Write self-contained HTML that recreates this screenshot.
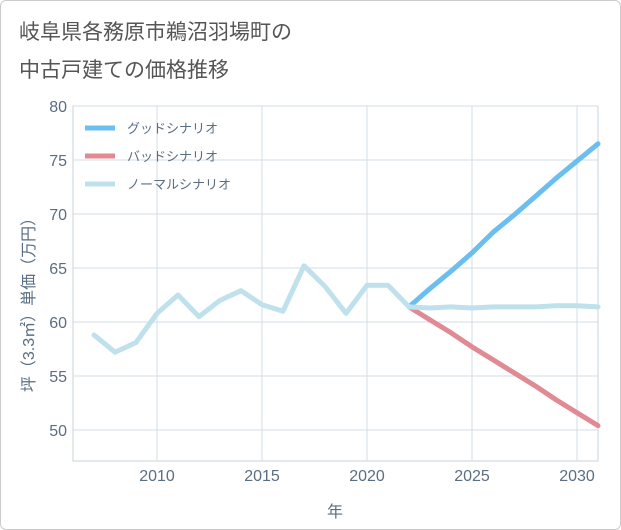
<!DOCTYPE html>
<html><head><meta charset="utf-8"><style>
body{margin:0;background:#fff;font-family:"Liberation Sans","Noto Sans CJK JP",sans-serif;}
#wrap{position:relative;width:619px;height:528px;border:1px solid #ccc;border-radius:6px;overflow:hidden;}
</style></head><body>
<div id="wrap">
<svg id="c" width="621" height="530"></svg>
</div>
<script>
const years=[2007,2008,2009,2010,2011,2012,2013,2014,2015,2016,2017,2018,2019,2020,2021,2022];
const hist=[58.8,57.2,58.1,60.8,62.5,60.5,62.0,62.9,61.6,61.0,65.2,63.3,60.8,63.4,63.4,61.4];
const futYears=[2022,2023,2024,2025,2026,2027,2028,2029,2030,2031];
const good=[61.4,63.1,64.7,66.4,68.3,69.9,71.6,73.3,74.9,76.5];
const bad=[61.4,60.2,59.0,57.7,56.5,55.3,54.1,52.8,51.6,50.4];
const normal=[61.4,61.3,61.4,61.3,61.4,61.4,61.4,61.5,61.5,61.4];
const yTicks=[50,55,60,65,70,75,80];
const xTicks=[2010,2015,2020,2025,2030];
const NS="http://www.w3.org/2000/svg",svg=document.getElementById('c');
const L=72,R=597,T=105,B=460;
const x=v=>156+(v-2010)*21, y=v=>105+(80-v)*10.8;
function mk(t,a,p){const e=document.createElementNS(NS,t);for(const k in a)e.setAttribute(k,a[k]);(p||svg).appendChild(e);return e;}
function txt(s,a){const e=mk('text',a);e.textContent=s;return e;}
let e=txt('岐阜県各務原市鵜沼羽場町の',{x:18,y:38,'font-size':21,fill:'#555'});

e=txt('中古戸建ての価格推移',{x:18,y:76,'font-size':21,fill:'#555'});

e=mk('rect',{x:L,y:T,width:R-L,height:B-T,fill:'none',stroke:'#c8d3de'});

yTicks.forEach(v=>{let g=mk('line',{x1:L,x2:R,y1:y(v),y2:y(v),stroke:'#d3dce5'});

let t=txt(v,{x:66,y:y(v)+6,'font-size':16,fill:'#5a6e82','text-anchor':'end'});
});
xTicks.forEach(v=>{let g=mk('line',{x1:x(v),x2:x(v),y1:T,y2:B,stroke:'#d3dce5'});

let t=txt(v,{x:x(v),y:480,'font-size':16,fill:'#5a6e82','text-anchor':'middle'});
});
e=txt('年',{x:334,y:516,'font-size':16,fill:'#5a6e82','text-anchor':'middle'});

e=txt('坪（3.3㎡）単価（万円）',{x:0,y:0,'font-size':16,fill:'#5a6e82','text-anchor':'middle',transform:'translate(33,300) rotate(-90)'});

function line(xs,vs,col,name){const p=mk('polyline',{points:xs.map((a,i)=>x(a)+','+y(vs[i])).join(' '),fill:'none',stroke:col,'stroke-width':5,'stroke-linejoin':'round','stroke-linecap':'round'});
}
line(futYears,good,'#6bbef0','good-scenario-line');
line(futYears,bad,'#e08a94','bad-scenario-line');
line(years,hist,'#bfe1ec','historical-line');
line(futYears,normal,'#bfe1ec','normal-scenario-line');
[['グッドシナリオ','#6bbef0'],['バッドシナリオ','#e08a94'],['ノーマルシナリオ','#bfe1ec']].forEach((d,i)=>{
let yy=127+i*28;let l=mk('line',{x1:84,x2:114,y1:yy,y2:yy,stroke:d[1],'stroke-width':5});

let t=txt(d[0],{x:126,y:yy+5,'font-size':13,fill:'#5a6e82'});
});
</script>
</body></html>
